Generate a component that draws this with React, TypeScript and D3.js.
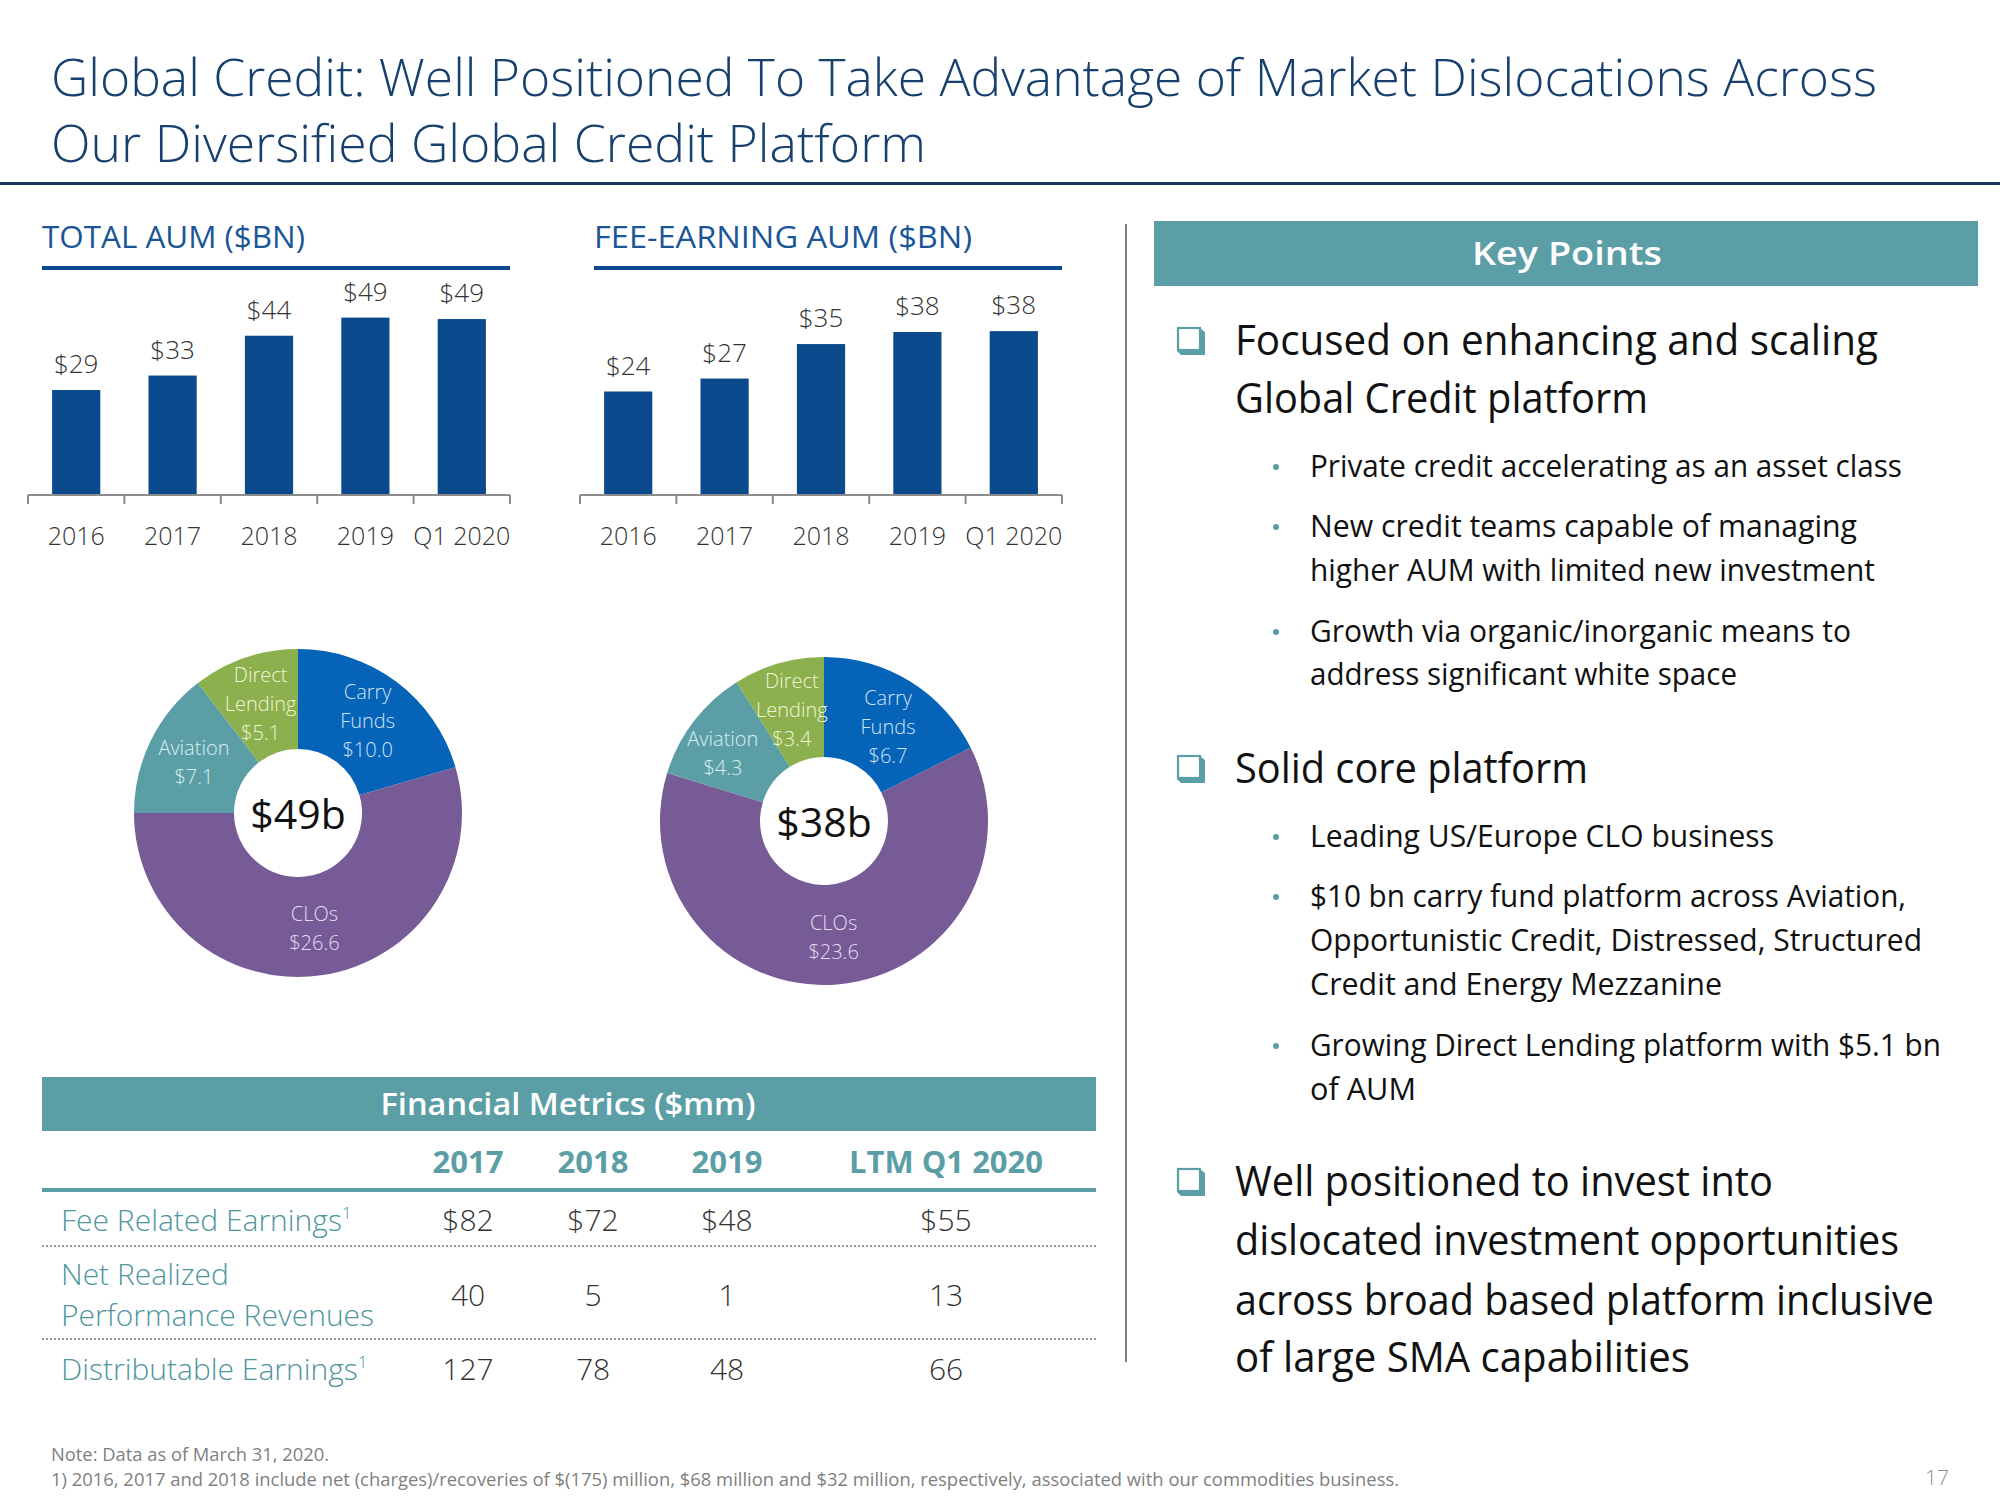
import React from 'react';
import * as d3 from 'd3';

const FONT = "'Open Sans', 'Noto Sans', sans-serif";

// ---------- data ----------
const years = ['2016', '2017', '2018', '2019', 'Q1 2020'];
const totalAum = [29.0, 33.0, 44.0, 49.0, 48.6];
const totalAumLabels = ['$29', '$33', '$44', '$49', '$49'];
const feeAum = [24.0, 27.0, 35.0, 37.8, 38.0];
const feeAumLabels = ['$24', '$27', '$35', '$38', '$38'];

const segColors = ['#0563b8', '#775b96', '#5b9ea6', '#8db04e'];
const segTextColors = ['#cfe2f7', '#e6dcf2', '#d8eef0', '#eef5d4'];
const totalMix = [10.0, 26.6, 7.1, 5.1];
const totalMixLabels = [['Carry', 'Funds', '$10.0'], ['CLOs', '$26.6'], ['Aviation', '$7.1'], ['Direct', 'Lending', '$5.1']];
const feeMix = [6.7, 23.6, 4.3, 3.4];
const feeMixLabels = [['Carry', 'Funds', '$6.7'], ['CLOs', '$23.6'], ['Aviation', '$4.3'], ['Direct', 'Lending', '$3.4']];

const finCols = ['2017', '2018', '2019', 'LTM Q1 2020'];
const feeRelated = ['$82', '$72', '$48', '$55'];
const netRealized = ['40', '5', '1', '13'];
const distributable = ['127', '78', '48', '66'];

const TEAL = '#5b9ea6';
const NAVY = '#0a4a8c';

function T({ x, y, w, size, weight = 400, fill = '#222', anchor = 'start', base, children }: any) {
  return (
    <text x={x} y={y} fontSize={size} fontWeight={weight} fill={fill} textAnchor={anchor}
      dominantBaseline={base} textLength={w} lengthAdjust={w ? 'spacingAndGlyphs' : undefined}
      fontFamily={FONT}>{children}</text>
  );
}

function BarChart({ x0, x1, axisY, yMax, plotH, values, labels, title, titleW }: any) {
  const x = d3.scaleBand<string>().domain(years).range([x0, x1]).paddingInner(0.5).paddingOuter(0.25);
  const y = d3.scaleLinear().domain([0, yMax]).range([axisY, axisY - plotH]);
  const step = x.step();
  const tickXs = d3.range(years.length + 1).map(i => x0 + i * step);
  return (
    <g>
      <T x={x0 + 14} y={248} size={31} w={titleW} fill="#1a5597">{title}</T>
      <rect x={x0 + 14} y={266} width={x1 - x0 - 14} height={4} fill={NAVY} />
      {years.map((yr, i) => (
        <g key={yr}>
          <rect x={x(yr)} y={y(values[i])} width={x.bandwidth()} height={axisY - y(values[i])} fill={NAVY} />
          <T x={x(yr)! + x.bandwidth() / 2} y={y(values[i]) - 17} size={26} weight={300} fill="#333" anchor="middle">{labels[i]}</T>
          <T x={x(yr)! + x.bandwidth() / 2} y={axisY + 50} size={25} weight={300} fill="#333" anchor="middle">{yr}</T>
        </g>
      ))}
      <line x1={x0} x2={x1} y1={axisY} y2={axisY} stroke="#8c8c8c" strokeWidth={2} />
      {tickXs.map((tx, i) => (
        <line key={i} x1={tx} x2={tx} y1={axisY} y2={axisY + 9} stroke="#8c8c8c" strokeWidth={2} />
      ))}
    </g>
  );
}

function Donut({ cx, cy, values, labels, center, nudge }: any) {
  const pie = d3.pie<number>().sort(null).value(d => d);
  const arcs = pie(values);
  const arc = d3.arc<any>().innerRadius(64).outerRadius(164);
  const labelArc = d3.arc<any>().innerRadius(116).outerRadius(116);
  return (
    <g transform={`translate(${cx},${cy})`}>
      {arcs.map((a, i) => <path key={i} d={arc(a)!} fill={segColors[i]} />)}
      {arcs.map((a, i) => {
        const [cx0, cy0] = labelArc.centroid(a);
        const lx = cx0 + (nudge ? nudge[i][0] : 0);
        const ly = cy0 + (nudge ? nudge[i][1] : 0);
        const lines = labels[i];
        const lh = 29;
        return (
          <g key={'l' + i}>
            {lines.map((ln: string, j: number) => (
              <T key={j} x={lx} y={ly + (j - (lines.length - 1) / 2) * lh} size={20} weight={300}
                fill={segTextColors[i]} anchor="middle" base="central">{ln}</T>
            ))}
          </g>
        );
      })}
      <T x={0} y={0} size={41} weight={400} fill="#111" anchor="middle" base="central">{center}</T>
    </g>
  );
}

function CheckBox({ x, y }: any) {
  return (
    <g>
      <path d={`M${x + 4},${y + 26} L${x + 28},${y + 26} L${x + 28},${y + 3} L${x + 24},${y} L${x + 24},${y + 22} L${x},${y + 22} Z`} fill={TEAL} />
      <rect x={x + 1} y={y - 1} width={22} height={22} fill="#fff" stroke={TEAL} strokeWidth={2.2} />
    </g>
  );
}

const bigLines = [
  { t: 'Focused on enhancing and scaling', y: 355, w: 643 },
  { t: 'Global Credit platform', y: 413, w: 413 },
  { t: 'Solid core platform', y: 783, w: 353 },
  { t: 'Well positioned to invest into', y: 1196, w: 538 },
  { t: 'dislocated investment opportunities', y: 1255, w: 664 },
  { t: 'across broad based platform inclusive', y: 1315, w: 699 },
  { t: 'of large SMA capabilities', y: 1372, w: 455 },
];
const smallLines = [
  { t: 'Private credit accelerating as an asset class', y: 477, w: 592, dot: true },
  { t: 'New credit teams capable of managing', y: 537, w: 547, dot: true },
  { t: 'higher AUM with limited new investment', y: 581, w: 565 },
  { t: 'Growth via organic/inorganic means to', y: 642, w: 541, dot: true },
  { t: 'address significant white space', y: 685, w: 427 },
  { t: 'Leading US/Europe CLO business', y: 847, w: 464, dot: true },
  { t: '$10 bn carry fund platform across Aviation,', y: 907, w: 596, dot: true },
  { t: 'Opportunistic Credit,  Distressed, Structured', y: 951, w: 612 },
  { t: 'Credit and Energy Mezzanine', y: 995, w: 412 },
  { t: 'Growing Direct Lending platform with $5.1 bn', y: 1056, w: 631, dot: true },
  { t: 'of AUM', y: 1100, w: 106 },
];
const boxYs = [329, 757, 1170];

export default function App() {
  const colX = [468, 593, 727, 946];
  return (
    <svg width={2000} height={1500} style={{ position: 'absolute', left: 0, top: 0, background: '#fff' }}>
      <rect width={2000} height={1500} fill="#fff" />
      {/* Title */}
      <T x={51} y={96} size={51} weight={300} fill="#17406e" w={1826}>Global Credit: Well Positioned To Take Advantage of Market Dislocations Across</T>
      <T x={51} y={162} size={51} weight={300} fill="#17406e" w={875}>Our Diversified Global Credit Platform</T>
      <rect x={0} y={182} width={2000} height={3} fill="#17375e" />

      {/* Bar charts */}
      <BarChart x0={28} x1={510} axisY={495} yMax={50} plotH={181} values={totalAum} labels={totalAumLabels} title="TOTAL AUM ($BN)" titleW={263} />
      <BarChart x0={580} x1={1062} axisY={495} yMax={40} plotH={172.5} values={feeAum} labels={feeAumLabels} title="FEE-EARNING AUM ($BN)" titleW={378} />

      {/* Donuts */}
      <Donut cx={298} cy={813} values={totalMix} labels={totalMixLabels} center="$49b" />
      <Donut cx={824} cy={821} values={feeMix} labels={feeMixLabels} center="$38b"
        nudge={[[3, 4], [0, 0], [-9, 2], [0, 0]]} />

      {/* Financial metrics table */}
      <rect x={42} y={1077} width={1054} height={54} fill={TEAL} />
      <T x={568} y={1115} size={31} weight={600} fill="#fff" anchor="middle" w={375}>Financial Metrics ($mm)</T>
      {finCols.map((c, i) => (
        <T key={c} x={colX[i]} y={1173} size={31} weight={700} fill={TEAL} anchor="middle">{c}</T>
      ))}
      <rect x={42} y={1188} width={1054} height={4} fill={TEAL} />
      <text x={61} y={1231} fontSize={30} fontWeight={300} fill="#4f959d" fontFamily={FONT}>
        Fee Related Earnings<tspan fontSize={17} dy={-12}>1</tspan>
      </text>
      {feeRelated.map((v, i) => <T key={i} x={colX[i]} y={1231} size={30} weight={300} fill="#333" anchor="middle">{v}</T>)}
      <line x1={42} x2={1096} y1={1246} y2={1246} stroke="#777" strokeWidth={1.5} strokeDasharray="2,2" />
      <T x={61} y={1285} size={30} weight={300} fill="#4f959d">Net Realized</T>
      <T x={61} y={1326} size={30} weight={300} fill="#4f959d">Performance Revenues</T>
      {netRealized.map((v, i) => <T key={i} x={colX[i]} y={1306} size={30} weight={300} fill="#333" anchor="middle">{v}</T>)}
      <line x1={42} x2={1096} y1={1339} y2={1339} stroke="#777" strokeWidth={1.5} strokeDasharray="2,2" />
      <text x={61} y={1380} fontSize={30} fontWeight={300} fill="#4f959d" fontFamily={FONT}>
        Distributable Earnings<tspan fontSize={17} dy={-12}>1</tspan>
      </text>
      {distributable.map((v, i) => <T key={i} x={colX[i]} y={1380} size={30} weight={300} fill="#333" anchor="middle">{v}</T>)}

      {/* Divider */}
      <line x1={1126} x2={1126} y1={224} y2={1362} stroke="#555" strokeWidth={1.5} />

      {/* Key points */}
      <rect x={1154} y={221} width={824} height={65} fill={TEAL} />
      <T x={1567} y={265} size={33} weight={600} fill="#fff" anchor="middle" w={190}>Key Points</T>
      {boxYs.map((by, i) => <CheckBox key={i} x={1177} y={by} />)}
      {bigLines.map((l, i) => <T key={i} x={1235} y={l.y} size={42} weight={400} fill="#111" w={l.w}>{l.t}</T>)}
      {smallLines.map((l, i) => (
        <g key={i}>
          {l.dot && <circle cx={1276} cy={l.y - 10} r={3} fill={TEAL} />}
          <T x={1310} y={l.y} size={31} weight={400} fill="#111" w={l.w}>{l.t}</T>
        </g>
      ))}

      {/* Footnotes */}
      <T x={51} y={1461} size={18} weight={400} fill="#7f7f7f" w={278}>Note: Data as of March 31, 2020.</T>
      <T x={51} y={1486} size={18} weight={400} fill="#7f7f7f" w={1348}>1) 2016, 2017 and 2018 include net (charges)/recoveries of $(175) million, $68 million and $32 million, respectively, associated with our commodities business.</T>
      <T x={1937} y={1485} size={21} weight={300} fill="#8c8c8c" anchor="middle">17</T>
    </svg>
  );
}
